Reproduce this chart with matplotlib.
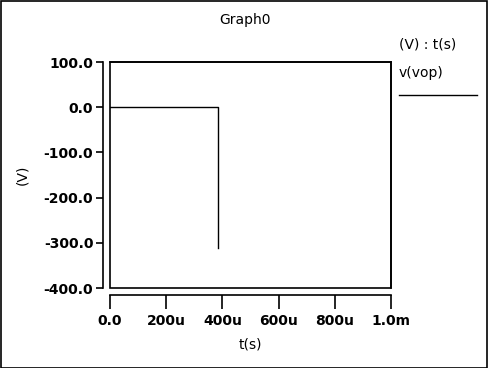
import matplotlib
matplotlib.use("Agg")
import matplotlib.pyplot as plt
from matplotlib.patches import Rectangle
from matplotlib.lines import Line2D

# transient trace of v(vop): flat at 0 V, then drops at ~383u
t_s = [0.0, 383e-6, 383e-6]
v_vop = [0.0, 0.0, -311.0]

x_ticks = [0.0, 200e-6, 400e-6, 600e-6, 800e-6, 1e-3]
x_labels = ["0.0", "200u", "400u", "600u", "800u", "1.0m"]
y_ticks = [100.0, 0.0, -100.0, -200.0, -300.0, -400.0]
y_labels = ["100.0", "0.0", "-100.0", "-200.0", "-300.0", "-400.0"]

W, H = 488, 368
fig = plt.figure(figsize=(W / 100, H / 100), dpi=100)
fig.patch.set_facecolor("white")

# outer frame
fig.add_artist(Rectangle((0.5 / W, 0.5 / H), (W - 1.5) / W, (H - 1.5) / H,
                         transform=fig.transFigure, fill=False,
                         edgecolor="black", linewidth=1.2))

# plot box: x 110..391, y 62..288 (pixels from top)
left, right, top, bottom = 110, 391, 62, 288
ax = fig.add_axes([left / W, 1 - bottom / H, (right - left) / W, (bottom - top) / H])
ax.plot(t_s, v_vop, color="black", linewidth=1.0)
ax.set_xlim(0, 1e-3)
ax.set_ylim(-400, 100)

ax.spines["left"].set_position(("outward", 5))
ax.spines["bottom"].set_position(("outward", 5))
for s in ax.spines.values():
    s.set_linewidth(1.2)
ax.add_patch(Rectangle((0, 0), 1, 1, transform=ax.transAxes, fill=False,
                       edgecolor="black", linewidth=1.2, clip_on=False))

ax.set_xticks(x_ticks)
ax.set_xticklabels(x_labels, fontsize=10, fontweight="bold")
ax.set_yticks(y_ticks)
ax.set_yticklabels(y_labels, fontsize=10, fontweight="bold")
ax.tick_params(axis="x", direction="out", length=10, width=1.2, pad=4)
ax.tick_params(axis="y", direction="out", length=5, width=1.2, pad=2)

fig.text(250 / W, 1 - 344 / H, "t(s)", ha="center", va="center", fontsize=10)
fig.text(22 / W, 1 - 175 / H, "(V)", ha="center", va="center", fontsize=10,
         rotation=90)

fig.text(245 / W, 1 - 20 / H, "Graph0", ha="center", va="center", fontsize=10)
fig.text(399 / W, 1 - 45 / H, "(V) : t(s)", ha="left", va="center", fontsize=10)
fig.text(399 / W, 1 - 73 / H, "v(vop)", ha="left", va="center", fontsize=10)
fig.add_artist(Line2D([399 / W, 477 / W], [1 - 95 / H, 1 - 95 / H],
                      transform=fig.transFigure, color="black", linewidth=1.0))

fig.savefig("out.png", dpi=100)
